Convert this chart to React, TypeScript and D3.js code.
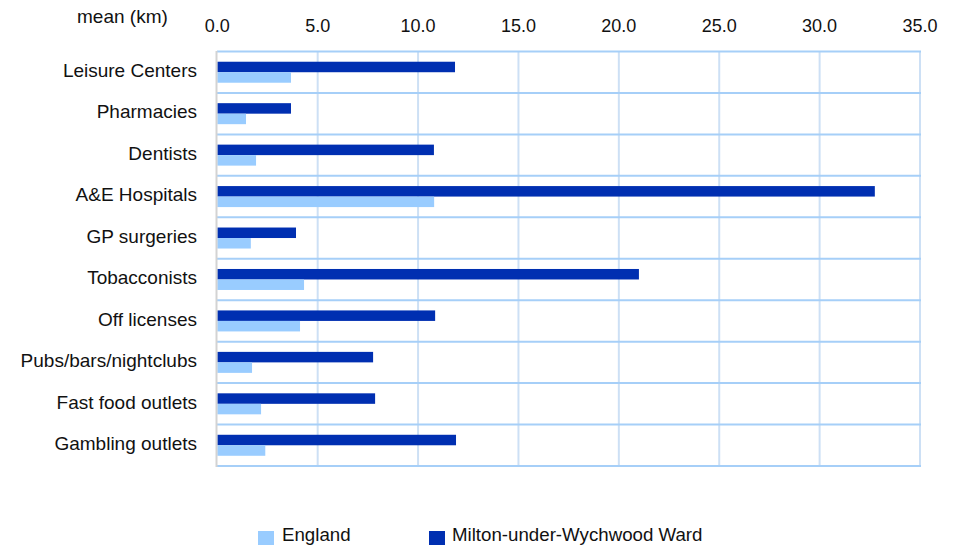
import React from "react";
import * as d3 from "d3";

const categories = [
  "Leisure Centers",
  "Pharmacies",
  "Dentists",
  "A&E Hospitals",
  "GP surgeries",
  "Tobacconists",
  "Off licenses",
  "Pubs/bars/nightclubs",
  "Fast food outlets",
  "Gambling outlets",
];
const wardValues = [11.84, 3.67, 10.79, 32.75, 3.92, 21.0, 10.85, 7.76, 7.86, 11.89];
const englandValues = [3.67, 1.43, 1.93, 10.8, 1.67, 4.32, 4.12, 1.73, 2.18, 2.39];
const xTicks = [0, 5, 10, 15, 20, 25, 30, 35];
const seriesNames = ["England", "Milton-under-Wychwood Ward"];

const W = 957;
const H = 545;
const FONT = "'Liberation Sans', Arial, sans-serif";
const DARK = "#002fb1";
const LIGHT = "#99ccff";

export default function App() {
  const x = d3.scaleLinear().domain([0, 35]).range([217.3, 920]);
  const y = d3.scaleBand().domain(categories).range([51.5, 466]).paddingInner(0).paddingOuter(0);
  const bw = y.bandwidth();
  const barH = 10.5;

  return (
    <svg
      width={W}
      height={H}
      style={{ position: "absolute", left: 0, top: 0, background: "#fff" }}
      fontFamily={FONT}
    >
      {xTicks.map((t) =>
        t === 0 ? null : (
          <line key={"v" + t} x1={x(t)} x2={x(t)} y1={51.5} y2={466} stroke="#cde0f5" strokeWidth={2} />
        )
      )}
      {categories.map((c) => (
        <line key={"h" + c} x1={217} x2={921} y1={y(c)!} y2={y(c)!} stroke="#a6cff8" strokeWidth={2} />
      ))}
      <line x1={217} x2={921} y1={466} y2={466} stroke="#a6cff8" strokeWidth={2} />
      {categories.map((c, i) => {
        const cy = y(c)! + bw / 2;
        return (
          <g key={"b" + c}>
            <rect x={x(0)} y={cy - barH} width={x(wardValues[i]) - x(0)} height={barH} fill={DARK} />
            <rect x={x(0)} y={cy} width={x(englandValues[i]) - x(0)} height={barH} fill={LIGHT} />
          </g>
        );
      })}
      <line x1={216.5} x2={216.5} y1={51} y2={467} stroke="#d3d3d3" strokeWidth={2} />
      {categories.map((c) => (
        <text
          key={"l" + c}
          x={197}
          y={y(c)! + bw / 2 + 4.8}
          textAnchor="end"
          fontSize={19}
          fill="#111"
        >
          {c}
        </text>
      ))}
      {xTicks.map((t) => (
        <text key={"t" + t} x={x(t)} y={32} textAnchor="middle" fontSize={18} fill="#111">
          {t.toFixed(1)}
        </text>
      ))}
      <text x={77} y={22.5} fontSize={19} fill="#111">
        mean (km)
      </text>
      <rect x={258} y={531} width={16} height={15} fill={LIGHT} />
      <text x={282} y={541} fontSize={18.7} fill="#111">
        {seriesNames[0]}
      </text>
      <rect x={429} y={531} width={16} height={15} fill={DARK} />
      <text x={452} y={541} fontSize={18.7} fill="#111">
        {seriesNames[1]}
      </text>
    </svg>
  );
}
